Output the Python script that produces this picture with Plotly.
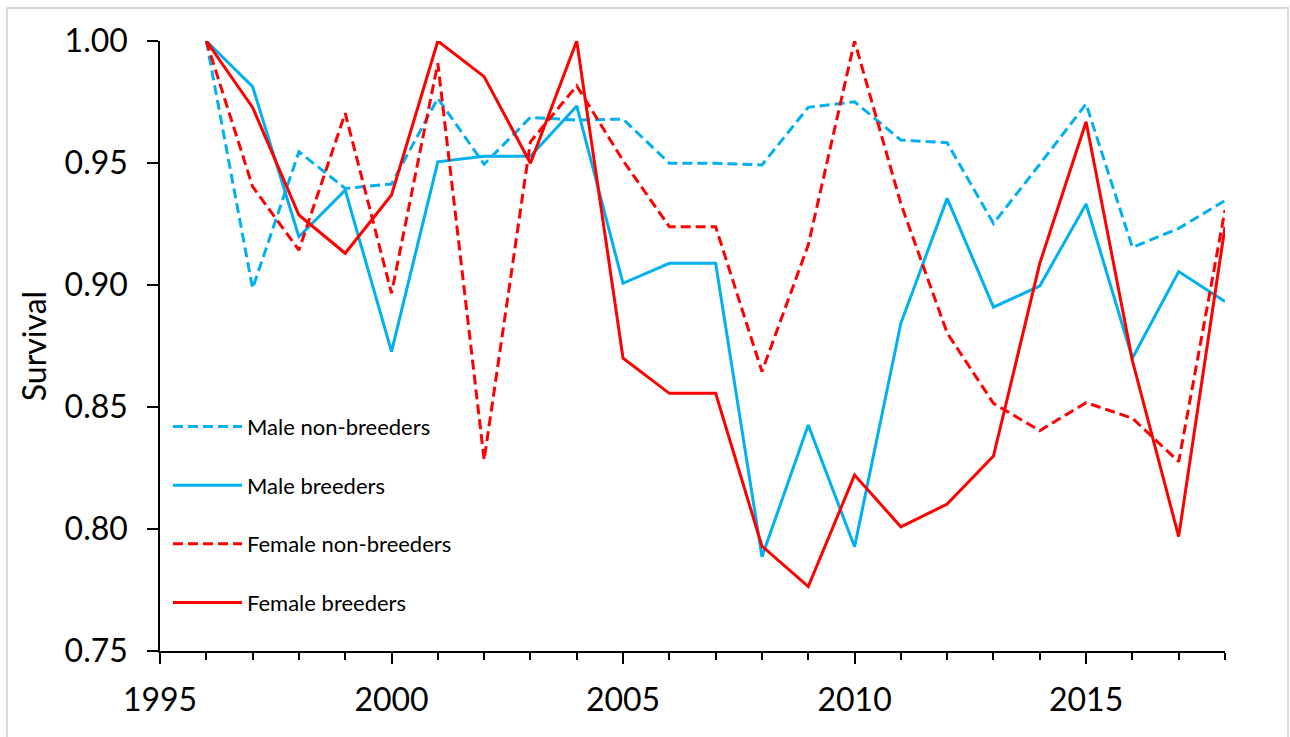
import plotly.graph_objects as go

# Annual survival estimates, 1996-2018
years = list(range(1996, 2019))

male_nonbreeders = [1.000, 0.8986, 0.9546, 0.9396, 0.9414, 0.9765, 0.9495, 0.9687,
                    0.9676, 0.9680, 0.9499, 0.9499, 0.9492, 0.9728, 0.9751, 0.9594,
                    0.9583, 0.9252, 0.9495, 0.9742, 0.9154, 0.9232, 0.9346]

male_breeders = [1.000, 0.9813, 0.9198, 0.9389, 0.8727, 0.9505, 0.9528, 0.9528,
                 0.9734, 0.9007, 0.9089, 0.9089, 0.7886, 0.8426, 0.7927, 0.8843,
                 0.9355, 0.8909, 0.8996, 0.9332, 0.8700, 0.9055, 0.8932]

female_nonbreeders = [1.000, 0.9403, 0.9143, 0.9704, 0.8966, 0.9909, 0.8283, 0.9587,
                      0.9816, 0.9510, 0.9239, 0.9239, 0.8645, 0.9164, 1.000, 0.9333,
                      0.8803, 0.8515, 0.8403, 0.8518, 0.8454, 0.8276, 0.9307]

female_breeders = [1.000, 0.9728, 0.9287, 0.9130, 0.9369, 1.000, 0.9854, 0.9499,
                   1.000, 0.8700, 0.8556, 0.8556, 0.7930, 0.7764, 0.8221, 0.8009,
                   0.8102, 0.8299, 0.9089, 0.9669, 0.8690, 0.7969, 0.9239]

BLUE = "#00B0F0"
RED = "#FF0000"
DASH = "10px,5px"
FONT = "Lato, 'Open Sans', sans-serif"

series = [
    ("Male non-breeders", male_nonbreeders, BLUE, DASH),
    ("Male breeders", male_breeders, BLUE, "solid"),
    ("Female non-breeders", female_nonbreeders, RED, DASH),
    ("Female breeders", female_breeders, RED, "solid"),
]

fig = go.Figure()
for name, vals, color, dash in series:
    fig.add_trace(go.Scatter(
        x=years, y=vals, mode="lines", name=name, legendgroup=name,
        line=dict(color=color, width=3, dash=dash),
    ))

axis_common = dict(
    showgrid=False, zeroline=False, showline=True, linecolor="black",
    linewidth=1.5, ticks="outside", tickcolor="black", tickwidth=1.5,
    tickfont=dict(family=FONT, size=32, color="black"),
)

fig.update_layout(
    width=1290, height=737,
    margin=dict(l=160, r=65, t=41, b=86),
    paper_bgcolor="white", plot_bgcolor="white",
    showlegend=True,
    legend=dict(
        x=0.0075, y=0.402, xanchor="left", yanchor="top",
        bgcolor="rgba(0,0,0,0)", traceorder="grouped",
        tracegroupgap=27, itemwidth=69,
        font=dict(family=FONT, size=22, color="black"),
    ),
    xaxis=dict(
        range=[1995, 2018], tick0=1995, dtick=5, ticklen=11,
        ticklabelstandoff=9,
        minor=dict(dtick=1, ticks="outside", ticklen=7,
                   tickcolor="black", tickwidth=1.5),
        **axis_common,
    ),
    yaxis=dict(
        range=[0.75, 1.0], tick0=0.75, dtick=0.05, ticklen=11,
        tickformat=".2f", ticklabelstandoff=13,
        title=dict(text="Survival", standoff=8,
                   font=dict(family=FONT, size=32, color="black")),
        **axis_common,
    ),
    shapes=[dict(
        type="rect", xref="paper", yref="paper",
        x0=-0.1437, x1=1.0592, y0=-0.15, y1=1.0541,
        line=dict(color="#d9d9d9", width=2), fillcolor="rgba(0,0,0,0)",
        layer="below",
    )],
)

fig.write_html("out.html")
